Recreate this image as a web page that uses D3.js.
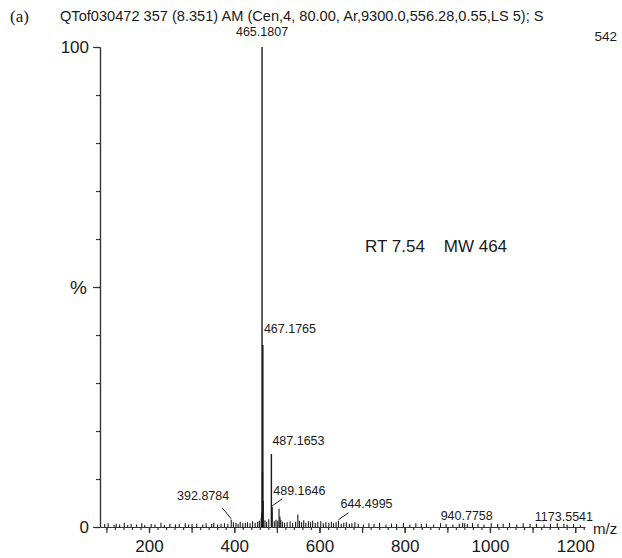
<!DOCTYPE html>
<html>
<head>
<meta charset="utf-8">
<script src="https://cdn.jsdelivr.net/npm/d3@7"></script>
<style>
  body { margin: 0; background: #fff; }
  svg text { font-family: "Liberation Sans", Arial, sans-serif; fill: #1a1a1a; }
</style>
</head>
<body>
<svg id="chart" width="622" height="558"></svg>
<script>
// labelled peaks (m/z, relative intensity %)
const peakMz  = [465.1807, 467.1765, 487.1653, 489.1646, 392.8784, 644.4995, 940.7758, 1173.5541];
const peakInt = [100, 37.9, 15.2, 4.2, 1.5, 1.3, 0.8, 0.7];

// unlabelled minor peaks
const minorMz  = [464.2, 466.18, 468.2, 488.2, 505.1, 507.2, 509.1, 549.2, 463.1];
const minorInt = [3.0, 11.5, 5.5, 3.0, 3.8, 2.2, 1.5, 2.6, 1.8];

// baseline noise
const noiseMz  = [96, 104, 118, 123, 131, 142, 150, 158, 171, 183, 190, 205, 214, 228, 236, 249, 262, 271, 285, 293,
                  301, 312, 326, 334, 347, 352, 361, 369, 377, 385, 398, 404, 409, 414, 420, 426, 431, 437, 443, 449,
                  455, 459, 472, 476, 481, 494, 498, 502, 513, 518, 524, 531, 537, 544, 553, 558, 563, 568, 574, 579,
                  584, 590, 596, 603, 609, 615, 622, 628, 633, 639, 651, 657, 663, 670, 676, 683, 691, 703, 716, 728,
                  741, 756, 769, 781, 797, 812, 826, 839, 851, 868, 884, 897, 913, 928, 936, 947, 959, 972, 986, 1003,
                  1018, 1031, 1046, 1063, 1078, 1094, 1109, 1127, 1142, 1158, 1181, 1196, 1212];
const noiseInt = [0.6, 0.8, 0.4, 0.7, 0.5, 0.9, 0.4, 0.6, 0.5, 0.8, 0.4, 0.6, 0.5, 0.9, 0.4, 0.7, 0.5, 0.6, 0.8, 0.5,
                  0.6, 0.7, 0.5, 0.8, 0.6, 0.9, 0.5, 0.7, 0.8, 0.6, 1.0, 0.9, 0.7, 1.1, 0.8, 0.9, 1.0, 0.8, 1.2, 0.9,
                  1.1, 1.3, 1.4, 1.1, 1.6, 1.2, 1.5, 1.3, 1.1, 0.9, 1.0, 1.2, 0.9, 1.1, 1.3, 1.0, 1.4, 0.9, 1.2, 1.0,
                  1.3, 0.9, 1.1, 1.2, 0.8, 1.0, 0.9, 1.1, 0.8, 1.0, 0.7, 0.9, 1.0, 0.7, 0.8, 1.0, 0.6, 0.5, 0.8, 0.6,
                  0.9, 0.5, 0.7, 0.6, 0.9, 0.5, 0.8, 0.6, 0.7, 0.5, 0.8, 0.6, 0.5, 0.7, 0.9, 0.6, 0.8, 0.7, 0.5, 0.8,
                  0.6, 0.7, 0.9, 0.5, 0.8, 0.6, 0.7, 0.5, 0.6, 0.8, 0.5, 0.6, 0.4];

const yTickMajor = [0, 50, 100];
const yTickLabels = ["0", "%", "100"];
const xTickMajor = [200, 400, 600, 800, 1000, 1200];

const header = "QTof030472 357 (8.351) AM (Cen,4, 80.00, Ar,9300.0,556.28,0.55,LS 5); S";
const basePeakCount = "542";
const note = "RT 7.54    MW 464";

const svg = d3.select("#chart");
const x = d3.scaleLinear().domain([85, 1223]).range([100, 585]);
const y = d3.scaleLinear().domain([0, 100]).range([527, 47]);
const ink = "#1a1a1a";

// title bits
svg.append("text").attr("x", 10).attr("y", 22)
  .style("font-family", "'Liberation Serif', 'Times New Roman', serif")
  .style("font-size", "17px").text("(a)");
svg.append("text").attr("x", 60).attr("y", 21).style("font-size", "14.6px").text(header);
svg.append("text").attr("x", 617).attr("y", 41).attr("text-anchor", "end")
  .style("font-size", "13.5px").text(basePeakCount);

// y axis
const yMinor = d3.axisLeft(y).tickValues(d3.range(0, 101, 10)).tickSize(4).tickFormat("").tickSizeOuter(0);
const gyMin = svg.append("g").attr("transform", "translate(100,0)").call(yMinor);
const yMajor = d3.axisLeft(y).tickValues(yTickMajor).tickSize(7).tickPadding(4).tickSizeOuter(0)
  .tickFormat((d, i) => yTickLabels[i]);
const gy = svg.append("g").attr("transform", "translate(100,0)").call(yMajor);
gy.selectAll("text").style("font-size", "17px").style("font-family", "'Liberation Sans', Arial, sans-serif");
gy.selectAll("text").filter(d => d === 50).style("font-size", "19px").attr("x", -13);
[gy, gyMin].forEach(g => { g.selectAll("line,path").attr("stroke", "#333").attr("stroke-width", 1.2); });

// x axis
const xMinor = d3.axisBottom(x).tickValues(d3.range(100, 1221, 20)).tickSize(3).tickFormat("").tickSizeOuter(0);
const gxMin = svg.append("g").attr("transform", "translate(0,527)").call(xMinor);
const xMid = d3.axisBottom(x).tickValues(d3.range(100, 1221, 100)).tickSize(6).tickFormat("").tickSizeOuter(0);
const gxMid = svg.append("g").attr("transform", "translate(0,527)").call(xMid);
gxMid.select(".domain").remove();
const xMajor = d3.axisBottom(x).tickValues(xTickMajor).tickSize(6).tickPadding(7).tickSizeOuter(0)
  .tickFormat(d3.format("d"));
const gx = svg.append("g").attr("transform", "translate(0,527)").call(xMajor);
gx.select(".domain").remove();
gx.selectAll("text").style("font-size", "17px").style("font-family", "'Liberation Sans', Arial, sans-serif");
[gx, gxMin, gxMid].forEach(g => { g.selectAll("line,path").attr("stroke", "#333").attr("stroke-width", 1.2); });
svg.append("text").attr("x", 593).attr("y", 534).style("font-size", "15px").text("m/z");

// spectrum sticks
const sticks = d3.zip(noiseMz, noiseInt)
  .concat(d3.zip(minorMz, minorInt))
  .concat(d3.zip(peakMz, peakInt));
svg.append("g").selectAll("line").data(sticks).join("line")
  .attr("x1", d => x(d[0])).attr("x2", d => x(d[0]))
  .attr("y1", y(0)).attr("y2", d => y(d[1]))
  .attr("stroke", ink)
  .attr("stroke-width", d => d[1] > 10 ? 1.4 : 1.1);

// peak labels: placement relative to stick top
const labelLayout = [
  { dx: 0,   dy: -11, anchor: "middle", leader: null },
  { dx: 1,   dy: -12, anchor: "start",  leader: null },
  { dx: 1,   dy: -9,  anchor: "start",  leader: null },
  { dx: 1,   dy: -12, anchor: "start",  leader: [10, -8] },
  { dx: -2,  dy: -20, anchor: "end",    leader: [-9, -12] },
  { dx: 2,   dy: -13, anchor: "start",  leader: [10, -8] },
  { dx: 2,   dy: -3,  anchor: "middle", leader: null },
  { dx: 0,   dy: -3,  anchor: "middle", leader: null }
];
const lab = svg.append("g");
peakMz.forEach((m, i) => {
  const L = labelLayout[i];
  const px = x(m), py = y(peakInt[i]);
  if (L.leader) {
    lab.append("line").attr("x1", px).attr("y1", py - 1)
      .attr("x2", px + L.leader[0]).attr("y2", py + L.leader[1])
      .attr("stroke", ink).attr("stroke-width", 1);
  }
  lab.append("text").attr("x", px + L.dx).attr("y", py + L.dy)
    .attr("text-anchor", L.anchor).style("font-size", "12.5px")
    .text(m.toFixed(4));
});

svg.append("text").attr("x", 365).attr("y", 252).style("font-size", "17px")
  .attr("xml:space", "preserve").text(note);
</script>
</body>
</html>
